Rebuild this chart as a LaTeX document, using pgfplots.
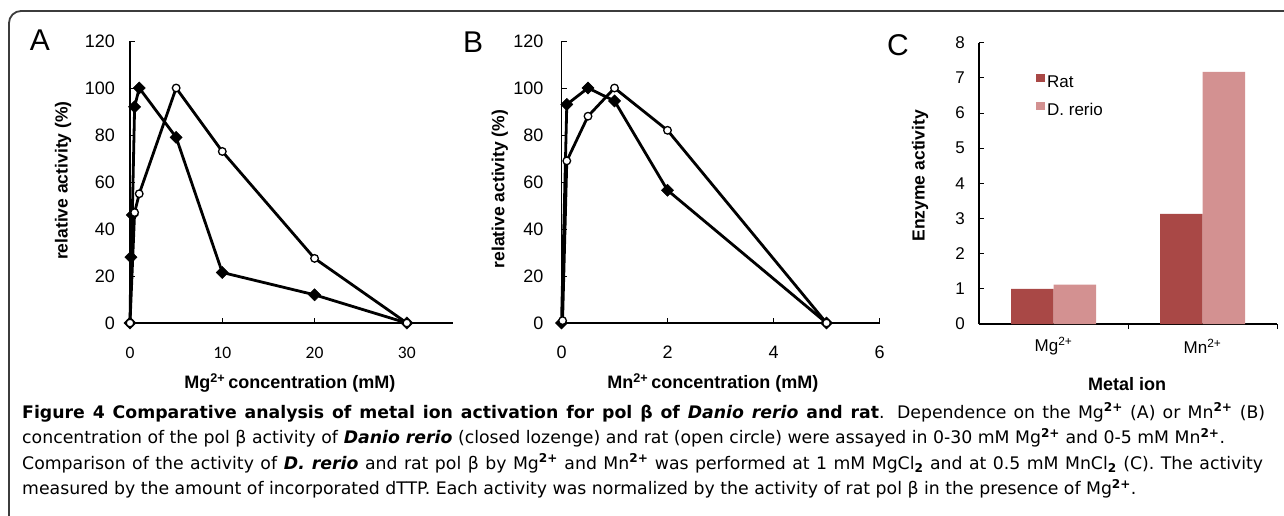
\documentclass[border=0pt]{standalone}
\usepackage{pgfplots}
\pgfplotsset{compat=1.18}
\usepackage{fontspec}
\setmainfont{Liberation Sans}
\newfontfamily\capfont{DejaVu Sans}
\newfontfamily\calfont{Carlito}
\definecolor{ratc}{RGB}{169,72,70}
\definecolor{danc}{RGB}{211,145,145}
\definecolor{boxc}{RGB}{60,60,60}
\pgfplotsset{
  panel/.style={
    scale only axis, clip=false,
    axis x line*=bottom, axis y line*=left,
    axis line style={-, line width=1.1pt, black},
    tick align=inside, major tick length=5pt,
    tick style={line width=1pt, black},
    /pgf/number format/assume math mode=true,
    tick label style={font=\fontsize{18}{18}\selectfont},
    yticklabel style={anchor=east, inner sep=0pt, xshift=-15pt},
    xticklabel style={anchor=center, inner sep=0pt, yshift=-30pt},
    xlabel style={font=\bfseries\fontsize{18}{18}\selectfont, anchor=center},
    ylabel style={font=\bfseries\fontsize{17.5}{18}\selectfont, anchor=center, rotate=0},
  },
  danio/.style={black, line width=2.8pt, mark=square*, mark size=4.3pt,
    mark options={rotate=45, fill=black, line width=0.5pt}},
  rat/.style={black, line width=2.8pt, mark=*, mark size=3.8pt,
    mark options={fill=white, line width=1.3pt}},
}
\begin{document}
\begin{tikzpicture}
\useasboundingbox (0pt,0pt) rectangle (1284pt,-515pt);
\draw[boxc, line width=1.8pt] (9pt,-520pt) -- (9pt,-23pt) arc[start angle=180, end angle=90, radius=12pt] -- (1290pt,-11pt);

% Panel A
\begin{axis}[panel, at={(130pt,-323pt)}, anchor=south west,
  width=323pt, height=282pt,
  xmin=0, xmax=35, ymin=0, ymax=120,
  xtick={0,10,20,30}, ytick={0,20,...,120},
  xticklabel style={font=\calfont\fontsize{17.5}{17.5}\selectfont},
  xlabel={Mg\textsuperscript{2+}\,concentration (mM)},
  xlabel style={at={(axis description cs:0.495,-0.212)}},
  ylabel={relative activity (\%)},
  ylabel style={at={(axis description cs:-0.207,0.505)}},
]
\addplot[danio] coordinates {(0,0) (0.1,28) (0.25,46) (0.5,92) (1,100) (5,79) (10,21.5) (20,12) (30,0)};
\addplot[rat] coordinates {(0,0) (0.5,47) (1,55) (5,100) (10,73) (20,27.5) (30,0)};
\end{axis}

% Panel B
\begin{axis}[panel, at={(561.5pt,-323pt)}, anchor=south west,
  width=318pt, height=282pt,
  xmin=0, xmax=6, ymin=0, ymax=120,
  xtick={0,2,4,6}, ytick={0,20,...,120},
  xticklabel style={yshift=1pt},
  yticklabel style={xshift=-3pt},
  xlabel={Mn\textsuperscript{2+}\,concentration (mM)},
  xlabel style={at={(axis description cs:0.476,-0.212)}},
  ylabel={relative activity (\%)},
  ylabel style={at={(axis description cs:-0.194,0.475)}},
]
\addplot[danio] coordinates {(0,0) (0.1,93) (0.5,100) (1,94.5) (2,56.5) (5,0)};
\addplot[rat] coordinates {(0.02,1) (0.1,69) (0.5,88) (1,100) (2,82) (5,0)};
\end{axis}

% Panel C
\begin{axis}[panel, at={(979pt,-324pt)}, anchor=south west,
  width=298pt, height=281.3pt,
  xmin=0.5, xmax=2.5, ymin=0, ymax=8,
  ytick={0,1,...,8},
  tick label style={font=\fontsize{17}{17}\selectfont},
  yticklabel style={xshift=1pt},
  xtick={1.5,2.5}, xticklabels={},
  extra x ticks={1,2},
  extra x tick labels={Mg\textsuperscript{2+},Mn\textsuperscript{2+}},
  extra x tick style={major tick length=0pt, xticklabel style={yshift=8pt}},
  ybar=0pt, bar width=42.5pt,
  xlabel={Metal ion},
  xlabel style={at={(axis description cs:0.497,-0.212)}},
  ylabel={Enzyme activity},
  ylabel style={at={(axis description cs:-0.198,0.527)}},
  legend style={draw=none, fill=none, at={(axis description cs:0.191,0.81)}, anchor=west,
    inner sep=0pt, font=\fontsize{17}{17}\selectfont, row sep=9pt,
    nodes={inner sep=2.5pt}},
  legend cell align=left,
  legend image code/.code={\path[#1,/tikz/.cd,draw=none] (0pt,0pt) rectangle (8.5pt,8pt);},
]
\addplot[fill=ratc, draw=none] coordinates {(1,1.0) (2,3.13)};
\addlegendentry{Rat}
\addplot[fill=danc, draw=none] coordinates {(1,1.12) (2,7.17)};
\addlegendentry{D. rerio}
\end{axis}

\node[font=\fontsize{30}{30}\selectfont] at (40pt,-40pt) {A};
\node[font=\fontsize{30}{30}\selectfont] at (473pt,-42pt) {B};
\node[font=\fontsize{30}{30}\selectfont] at (898pt,-45pt) {C};

\begin{scope}[every node/.style={anchor=base west, inner sep=0pt, font=\capfont\fontsize{17.3}{20}\selectfont}]
\node at (22pt,-418pt) {\makebox[1243pt][s]{\textbf{Figure 4 Comparative analysis of metal ion activation for pol β of \textit{Danio rerio} and rat}. Dependence on the Mg\textsuperscript{\textbf{2+}} (A) or Mn\textsuperscript{\textbf{2+}} (B)}};
\node at (22pt,-443.5pt) {concentration of the pol β activity of \textbf{\textit{Danio rerio}} (closed lozenge) and rat (open circle) were assayed in 0-30 mM Mg\textsuperscript{\textbf{2+}} and 0-5 mM Mn\textsuperscript{\textbf{2+}}.};
\node at (22pt,-469pt) {\makebox[1241pt][s]{Comparison of the activity of \textbf{\textit{D. rerio}} and rat pol β by Mg\textsuperscript{\textbf{2+}} and Mn\textsuperscript{\textbf{2+}} was performed at 1 mM MgCl\textsubscript{\textbf{2}} and at 0.5 mM MnCl\textsubscript{\textbf{2}} (C). The activity}};
\node at (22pt,-494.5pt) {measured by the amount of incorporated dTTP. Each activity was normalized by the activity of rat pol β in the presence of Mg\textsuperscript{\textbf{2+}}.};
\end{scope}
\end{tikzpicture}
\end{document}
